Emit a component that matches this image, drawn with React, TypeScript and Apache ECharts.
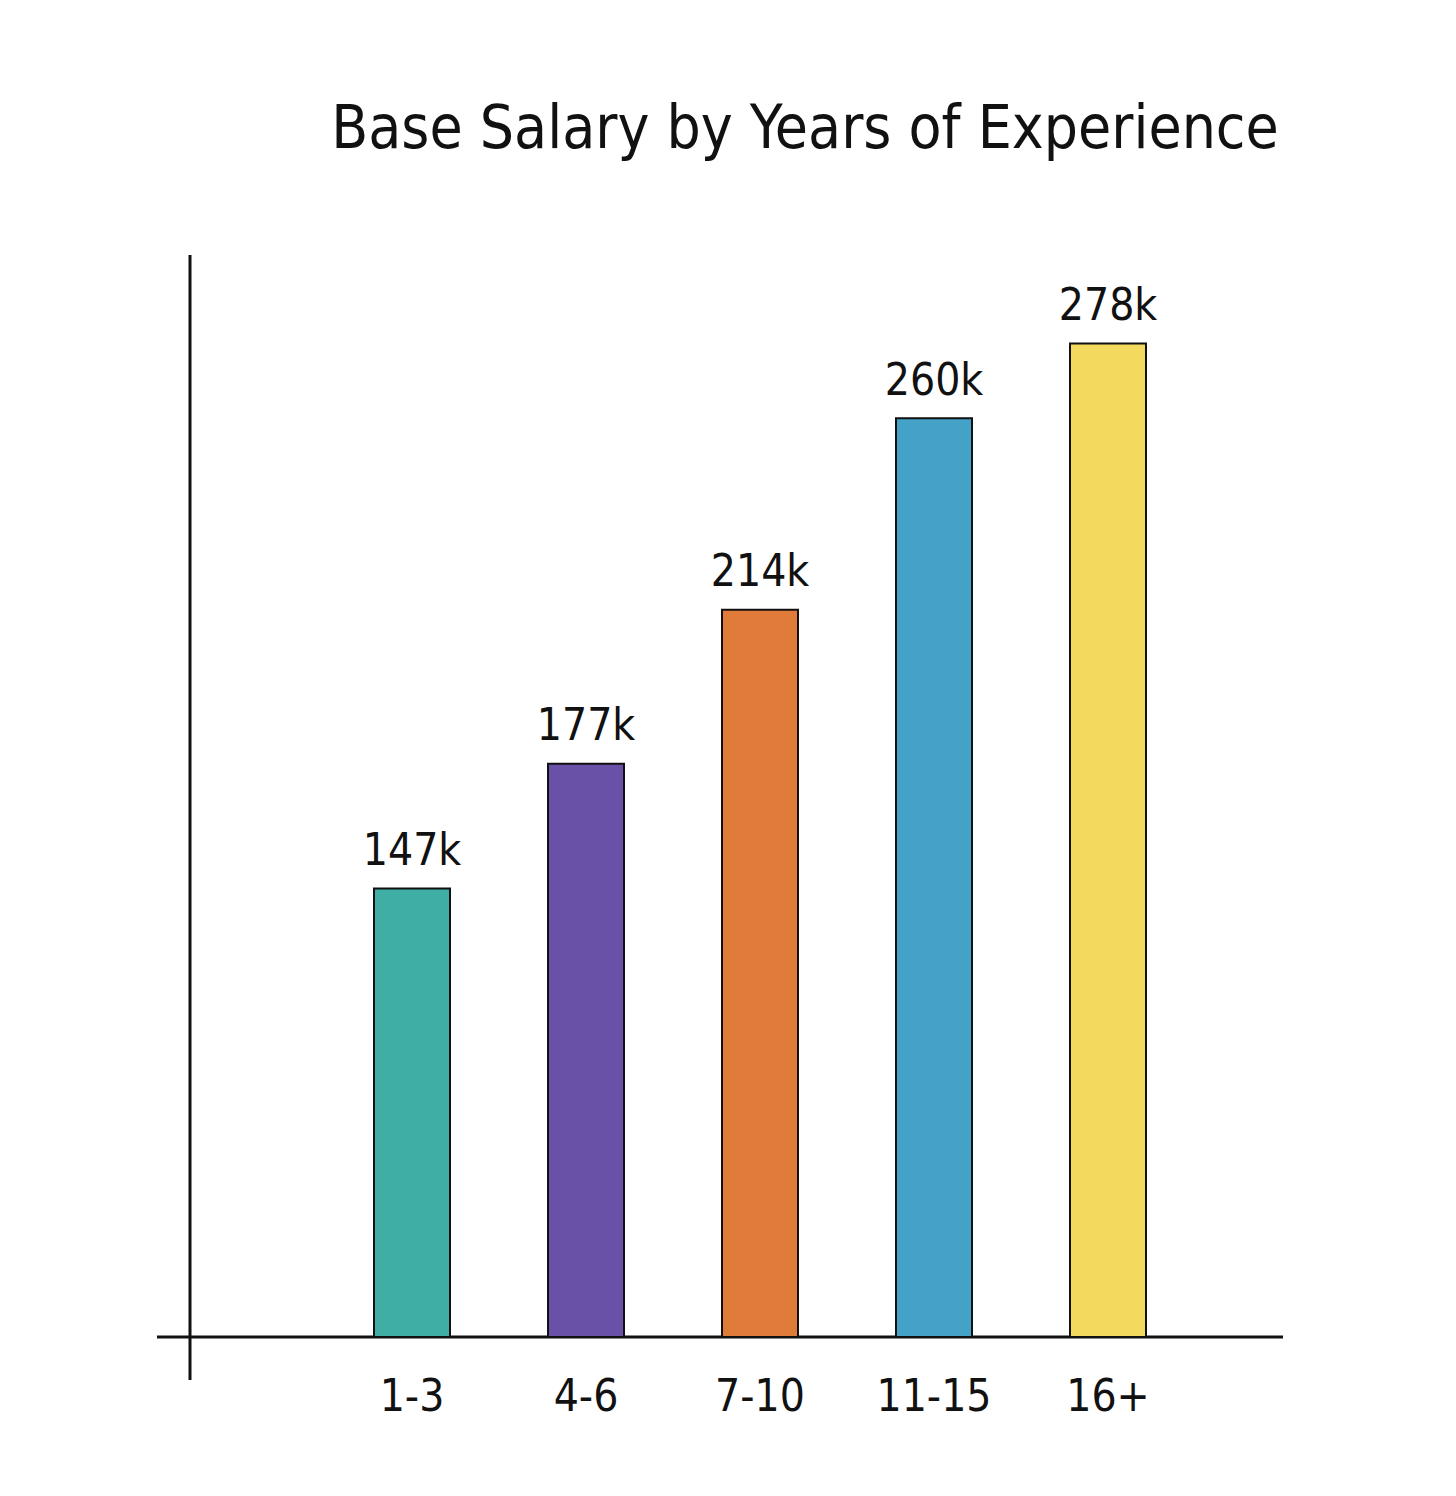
import React, { useRef, useEffect } from 'react';
import * as echarts from 'echarts';

const categories = ['1-3', '4-6', '7-10', '11-15', '16+'];
const salaries = [147, 177, 214, 260, 278];
const colors = ['#3FAEA4', '#6A51A8', '#E07B39', '#44A1C7', '#F3D95E'];

const FONT = '"Liberation Sans Narrow", "DejaVu Sans Condensed", sans-serif';

const App: React.FC = () => {
    const chartRef = useRef<HTMLDivElement>(null);

    useEffect(() => {
        if (!chartRef.current) return;
        const chart = echarts.init(chartRef.current, undefined, { renderer: 'svg' });

        chart.setOption({
            animation: false,
            backgroundColor: '#ffffff',
            title: {
                text: 'Base Salary by Years of Experience',
                left: 800,
                textAlign: 'center',
                top: 92,
                textStyle: { fontFamily: FONT, fontSize: 60, fontWeight: 'normal', color: '#111' }
            },
            grid: { left: 325, right: 261, top: 255, bottom: 159 },
            xAxis: {
                type: 'category',
                data: categories,
                axisLine: { show: false },
                axisTick: { show: false },
                axisLabel: { margin: 36, fontFamily: FONT, fontSize: 44, color: '#111' }
            },
            yAxis: {
                type: 'value',
                min: 39,
                max: 299,
                show: false
            },
            series: [{
                type: 'bar',
                barWidth: 78,
                data: salaries.map((v, i) => ({
                    value: v,
                    itemStyle: { color: colors[i] }
                })),
                itemStyle: { borderColor: '#111', borderWidth: 2 },
                label: {
                    show: true,
                    position: 'top',
                    distance: 16,
                    formatter: (p: any) => `${p.value}k`,
                    fontFamily: FONT,
                    fontSize: 44,
                    color: '#111'
                }
            }],
            graphic: [
                { type: 'line', shape: { x1: 190, y1: 255, x2: 190, y2: 1380 }, style: { stroke: '#111', lineWidth: 3 } },
                { type: 'line', shape: { x1: 157, y1: 1337, x2: 1283, y2: 1337 }, style: { stroke: '#111', lineWidth: 3 } }
            ]
        });

        return () => chart.dispose();
    }, []);

    return <div ref={chartRef} style={{ position: 'absolute', left: 0, top: 0, width: '1456px', height: '1496px' }} />;
};

export default App;
